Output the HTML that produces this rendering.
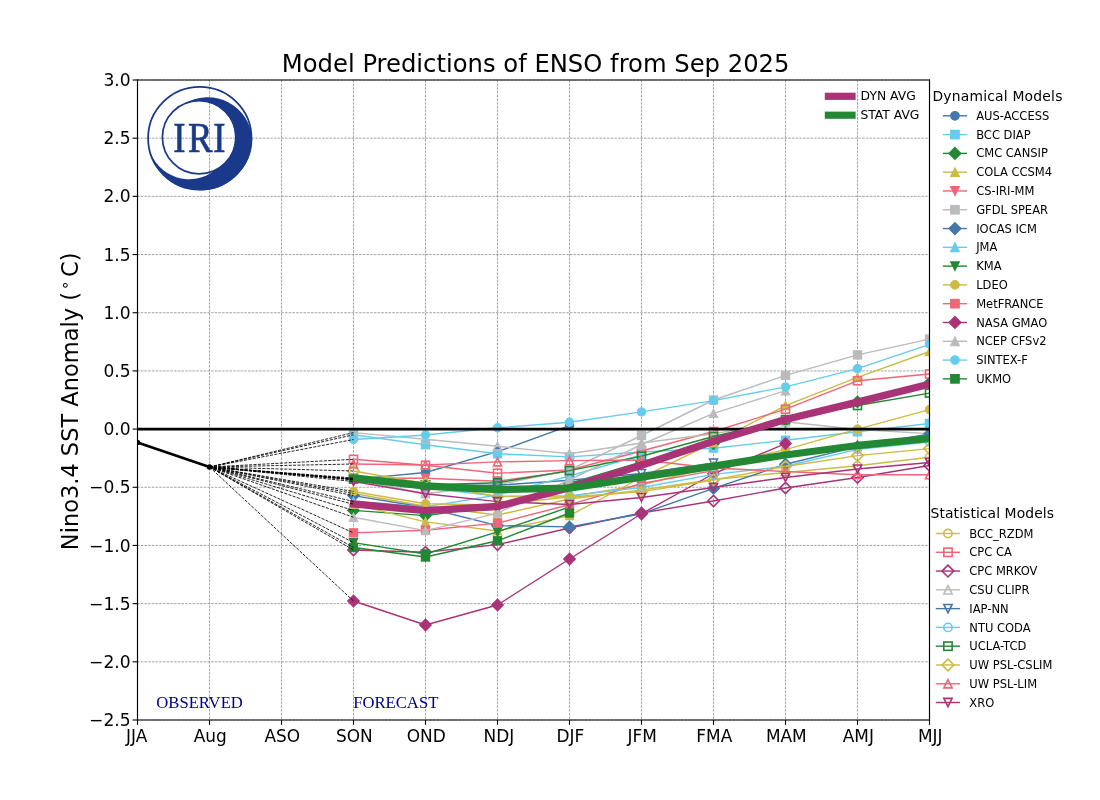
<!DOCTYPE html>
<html lang="en"><head><meta charset="utf-8"><title>Model Predictions of ENSO from Sep 2025</title>
<style>
html,body{margin:0;padding:0;background:#fff;}
body{width:1100px;height:800px;overflow:hidden;}
svg{display:block;}
text{font-family:"DejaVu Sans","Liberation Sans",sans-serif;fill:#000;}
.serif{font-family:"Liberation Serif","DejaVu Serif",serif;}
</style></head><body>
<svg width="1100" height="800" viewBox="0 0 1100 800">
<rect width="1100" height="800" fill="#fff"/>
<defs><clipPath id="ax"><rect x="137.5" y="80" width="792" height="640"/></clipPath></defs>

<g stroke="#808080" stroke-width="0.7" stroke-dasharray="2.6 1.1" fill="none">
<line x1="137.5" y1="80" x2="137.5" y2="720"/>
<line x1="209.5" y1="80" x2="209.5" y2="720"/>
<line x1="281.5" y1="80" x2="281.5" y2="720"/>
<line x1="353.5" y1="80" x2="353.5" y2="720"/>
<line x1="425.5" y1="80" x2="425.5" y2="720"/>
<line x1="497.5" y1="80" x2="497.5" y2="720"/>
<line x1="569.5" y1="80" x2="569.5" y2="720"/>
<line x1="641.5" y1="80" x2="641.5" y2="720"/>
<line x1="713.5" y1="80" x2="713.5" y2="720"/>
<line x1="785.5" y1="80" x2="785.5" y2="720"/>
<line x1="857.5" y1="80" x2="857.5" y2="720"/>
<line x1="929.5" y1="80" x2="929.5" y2="720"/>
<line x1="137" y1="80.00" x2="929" y2="80.00"/>
<line x1="137" y1="138.18" x2="929" y2="138.18"/>
<line x1="137" y1="196.36" x2="929" y2="196.36"/>
<line x1="137" y1="254.55" x2="929" y2="254.55"/>
<line x1="137" y1="312.73" x2="929" y2="312.73"/>
<line x1="137" y1="370.91" x2="929" y2="370.91"/>
<line x1="137" y1="429.09" x2="929" y2="429.09"/>
<line x1="137" y1="487.27" x2="929" y2="487.27"/>
<line x1="137" y1="545.45" x2="929" y2="545.45"/>
<line x1="137" y1="603.64" x2="929" y2="603.64"/>
<line x1="137" y1="661.82" x2="929" y2="661.82"/>
<line x1="137" y1="720.00" x2="929" y2="720.00"/>
</g>
<g clip-path="url(#ax)">
<g><polyline points="353.5,479.4 425.5,472.5 497.5,451.7 569.5,425.6" fill="none" stroke="#4477AA" stroke-width="1.4" stroke-linejoin="round"/>
<circle cx="353.50" cy="479.40" r="4.00" fill="#4477AA" stroke="#4477AA" stroke-width="1.39" stroke-linejoin="miter"/>
<circle cx="425.50" cy="472.50" r="4.00" fill="#4477AA" stroke="#4477AA" stroke-width="1.39" stroke-linejoin="miter"/>
<circle cx="497.50" cy="451.70" r="4.00" fill="#4477AA" stroke="#4477AA" stroke-width="1.39" stroke-linejoin="miter"/>
<circle cx="569.50" cy="425.60" r="4.00" fill="#4477AA" stroke="#4477AA" stroke-width="1.39" stroke-linejoin="miter"/>
</g>
<g><polyline points="353.5,434.8 425.5,444.7 497.5,453.75 569.5,456.9 641.5,452 713.5,448.2 785.5,440.3 857.5,431.8 929.5,423.5" fill="none" stroke="#66CCEE" stroke-width="1.4" stroke-linejoin="round"/>
<rect x="349.50" y="430.80" width="8.00" height="8.00" fill="#66CCEE" stroke="#66CCEE" stroke-width="1.39" stroke-linejoin="miter"/>
<rect x="421.50" y="440.70" width="8.00" height="8.00" fill="#66CCEE" stroke="#66CCEE" stroke-width="1.39" stroke-linejoin="miter"/>
<rect x="493.50" y="449.75" width="8.00" height="8.00" fill="#66CCEE" stroke="#66CCEE" stroke-width="1.39" stroke-linejoin="miter"/>
<rect x="565.50" y="452.90" width="8.00" height="8.00" fill="#66CCEE" stroke="#66CCEE" stroke-width="1.39" stroke-linejoin="miter"/>
<rect x="637.50" y="448.00" width="8.00" height="8.00" fill="#66CCEE" stroke="#66CCEE" stroke-width="1.39" stroke-linejoin="miter"/>
<rect x="709.50" y="444.20" width="8.00" height="8.00" fill="#66CCEE" stroke="#66CCEE" stroke-width="1.39" stroke-linejoin="miter"/>
<rect x="781.50" y="436.30" width="8.00" height="8.00" fill="#66CCEE" stroke="#66CCEE" stroke-width="1.39" stroke-linejoin="miter"/>
<rect x="853.50" y="427.80" width="8.00" height="8.00" fill="#66CCEE" stroke="#66CCEE" stroke-width="1.39" stroke-linejoin="miter"/>
<rect x="925.50" y="419.50" width="8.00" height="8.00" fill="#66CCEE" stroke="#66CCEE" stroke-width="1.39" stroke-linejoin="miter"/>
</g>
<g><polyline points="353.5,493.5 425.5,506.2 497.5,515 569.5,499 641.5,490 713.5,479.5 785.5,472.5 857.5,465.7 929.5,457.2" fill="none" stroke="#CCBB44" stroke-width="1.4" stroke-linejoin="round"/>
<circle cx="353.50" cy="493.50" r="4.00" fill="none" stroke="#CCBB44" stroke-width="1.6" stroke-linejoin="miter"/>
<circle cx="425.50" cy="506.20" r="4.00" fill="none" stroke="#CCBB44" stroke-width="1.6" stroke-linejoin="miter"/>
<circle cx="497.50" cy="515.00" r="4.00" fill="none" stroke="#CCBB44" stroke-width="1.6" stroke-linejoin="miter"/>
<circle cx="569.50" cy="499.00" r="4.00" fill="none" stroke="#CCBB44" stroke-width="1.6" stroke-linejoin="miter"/>
<circle cx="641.50" cy="490.00" r="4.00" fill="none" stroke="#CCBB44" stroke-width="1.6" stroke-linejoin="miter"/>
<circle cx="713.50" cy="479.50" r="4.00" fill="none" stroke="#CCBB44" stroke-width="1.6" stroke-linejoin="miter"/>
<circle cx="785.50" cy="472.50" r="4.00" fill="none" stroke="#CCBB44" stroke-width="1.6" stroke-linejoin="miter"/>
<circle cx="857.50" cy="465.70" r="4.00" fill="none" stroke="#CCBB44" stroke-width="1.6" stroke-linejoin="miter"/>
<circle cx="929.50" cy="457.20" r="4.00" fill="none" stroke="#CCBB44" stroke-width="1.6" stroke-linejoin="miter"/>
</g>
<g><polyline points="353.5,510.4 425.5,515.6 497.5,506 569.5,483.5 641.5,462 713.5,443.5 785.5,421.3 857.5,401.8 929.5,383" fill="none" stroke="#228833" stroke-width="1.4" stroke-linejoin="round"/>
<path d="M353.50 504.74L359.16 510.40L353.50 516.06L347.84 510.40Z" fill="#228833" stroke="#228833" stroke-width="1.39" stroke-linejoin="miter"/>
<path d="M425.50 509.94L431.16 515.60L425.50 521.26L419.84 515.60Z" fill="#228833" stroke="#228833" stroke-width="1.39" stroke-linejoin="miter"/>
<path d="M497.50 500.34L503.16 506.00L497.50 511.66L491.84 506.00Z" fill="#228833" stroke="#228833" stroke-width="1.39" stroke-linejoin="miter"/>
<path d="M569.50 477.84L575.16 483.50L569.50 489.16L563.84 483.50Z" fill="#228833" stroke="#228833" stroke-width="1.39" stroke-linejoin="miter"/>
<path d="M641.50 456.34L647.16 462.00L641.50 467.66L635.84 462.00Z" fill="#228833" stroke="#228833" stroke-width="1.39" stroke-linejoin="miter"/>
<path d="M713.50 437.84L719.16 443.50L713.50 449.16L707.84 443.50Z" fill="#228833" stroke="#228833" stroke-width="1.39" stroke-linejoin="miter"/>
<path d="M785.50 415.64L791.16 421.30L785.50 426.96L779.84 421.30Z" fill="#228833" stroke="#228833" stroke-width="1.39" stroke-linejoin="miter"/>
<path d="M857.50 396.14L863.16 401.80L857.50 407.46L851.84 401.80Z" fill="#228833" stroke="#228833" stroke-width="1.39" stroke-linejoin="miter"/>
<path d="M929.50 377.34L935.16 383.00L929.50 388.66L923.84 383.00Z" fill="#228833" stroke="#228833" stroke-width="1.39" stroke-linejoin="miter"/>
</g>
<g><polyline points="353.5,504.2 425.5,521.9 497.5,531 569.5,515.6 641.5,477.5 713.5,442.7 785.5,405.6 857.5,377.4 929.5,351.5" fill="none" stroke="#CCBB44" stroke-width="1.4" stroke-linejoin="round"/>
<path d="M353.50 500.20L357.50 508.20L349.50 508.20Z" fill="#CCBB44" stroke="#CCBB44" stroke-width="1.39" stroke-linejoin="miter"/>
<path d="M425.50 517.90L429.50 525.90L421.50 525.90Z" fill="#CCBB44" stroke="#CCBB44" stroke-width="1.39" stroke-linejoin="miter"/>
<path d="M497.50 527.00L501.50 535.00L493.50 535.00Z" fill="#CCBB44" stroke="#CCBB44" stroke-width="1.39" stroke-linejoin="miter"/>
<path d="M569.50 511.60L573.50 519.60L565.50 519.60Z" fill="#CCBB44" stroke="#CCBB44" stroke-width="1.39" stroke-linejoin="miter"/>
<path d="M641.50 473.50L645.50 481.50L637.50 481.50Z" fill="#CCBB44" stroke="#CCBB44" stroke-width="1.39" stroke-linejoin="miter"/>
<path d="M713.50 438.70L717.50 446.70L709.50 446.70Z" fill="#CCBB44" stroke="#CCBB44" stroke-width="1.39" stroke-linejoin="miter"/>
<path d="M785.50 401.60L789.50 409.60L781.50 409.60Z" fill="#CCBB44" stroke="#CCBB44" stroke-width="1.39" stroke-linejoin="miter"/>
<path d="M857.50 373.40L861.50 381.40L853.50 381.40Z" fill="#CCBB44" stroke="#CCBB44" stroke-width="1.39" stroke-linejoin="miter"/>
<path d="M929.50 347.50L933.50 355.50L925.50 355.50Z" fill="#CCBB44" stroke="#CCBB44" stroke-width="1.39" stroke-linejoin="miter"/>
</g>
<g><polyline points="353.5,459.3 425.5,465.2 497.5,473.2 569.5,470 641.5,451 713.5,431.5 785.5,409.2 857.5,380.8 929.5,374" fill="none" stroke="#EE6677" stroke-width="1.4" stroke-linejoin="round"/>
<rect x="349.50" y="455.30" width="8.00" height="8.00" fill="none" stroke="#EE6677" stroke-width="1.6" stroke-linejoin="miter"/>
<rect x="421.50" y="461.20" width="8.00" height="8.00" fill="none" stroke="#EE6677" stroke-width="1.6" stroke-linejoin="miter"/>
<rect x="493.50" y="469.20" width="8.00" height="8.00" fill="none" stroke="#EE6677" stroke-width="1.6" stroke-linejoin="miter"/>
<rect x="565.50" y="466.00" width="8.00" height="8.00" fill="none" stroke="#EE6677" stroke-width="1.6" stroke-linejoin="miter"/>
<rect x="637.50" y="447.00" width="8.00" height="8.00" fill="none" stroke="#EE6677" stroke-width="1.6" stroke-linejoin="miter"/>
<rect x="709.50" y="427.50" width="8.00" height="8.00" fill="none" stroke="#EE6677" stroke-width="1.6" stroke-linejoin="miter"/>
<rect x="781.50" y="405.20" width="8.00" height="8.00" fill="none" stroke="#EE6677" stroke-width="1.6" stroke-linejoin="miter"/>
<rect x="853.50" y="376.80" width="8.00" height="8.00" fill="none" stroke="#EE6677" stroke-width="1.6" stroke-linejoin="miter"/>
<rect x="925.50" y="370.00" width="8.00" height="8.00" fill="none" stroke="#EE6677" stroke-width="1.6" stroke-linejoin="miter"/>
</g>
<g><polyline points="353.5,550 425.5,552.3 497.5,544.6 569.5,528 641.5,513 713.5,501 785.5,488 857.5,477.5 929.5,465.5" fill="none" stroke="#AA3377" stroke-width="1.4" stroke-linejoin="round"/>
<path d="M353.50 544.34L359.16 550.00L353.50 555.66L347.84 550.00Z" fill="none" stroke="#AA3377" stroke-width="1.6" stroke-linejoin="miter"/>
<path d="M425.50 546.64L431.16 552.30L425.50 557.96L419.84 552.30Z" fill="none" stroke="#AA3377" stroke-width="1.6" stroke-linejoin="miter"/>
<path d="M497.50 538.94L503.16 544.60L497.50 550.26L491.84 544.60Z" fill="none" stroke="#AA3377" stroke-width="1.6" stroke-linejoin="miter"/>
<path d="M569.50 522.34L575.16 528.00L569.50 533.66L563.84 528.00Z" fill="none" stroke="#AA3377" stroke-width="1.6" stroke-linejoin="miter"/>
<path d="M641.50 507.34L647.16 513.00L641.50 518.66L635.84 513.00Z" fill="none" stroke="#AA3377" stroke-width="1.6" stroke-linejoin="miter"/>
<path d="M713.50 495.34L719.16 501.00L713.50 506.66L707.84 501.00Z" fill="none" stroke="#AA3377" stroke-width="1.6" stroke-linejoin="miter"/>
<path d="M785.50 482.34L791.16 488.00L785.50 493.66L779.84 488.00Z" fill="none" stroke="#AA3377" stroke-width="1.6" stroke-linejoin="miter"/>
<path d="M857.50 471.84L863.16 477.50L857.50 483.16L851.84 477.50Z" fill="none" stroke="#AA3377" stroke-width="1.6" stroke-linejoin="miter"/>
<path d="M929.50 459.84L935.16 465.50L929.50 471.16L923.84 465.50Z" fill="none" stroke="#AA3377" stroke-width="1.6" stroke-linejoin="miter"/>
</g>
<g><polyline points="353.5,478 425.5,478.3 497.5,481.25 569.5,471.25" fill="none" stroke="#EE6677" stroke-width="1.4" stroke-linejoin="round"/>
<path d="M353.50 482.00L357.50 474.00L349.50 474.00Z" fill="#EE6677" stroke="#EE6677" stroke-width="1.39" stroke-linejoin="miter"/>
<path d="M425.50 482.30L429.50 474.30L421.50 474.30Z" fill="#EE6677" stroke="#EE6677" stroke-width="1.39" stroke-linejoin="miter"/>
<path d="M497.50 485.25L501.50 477.25L493.50 477.25Z" fill="#EE6677" stroke="#EE6677" stroke-width="1.39" stroke-linejoin="miter"/>
<path d="M569.50 475.25L573.50 467.25L565.50 467.25Z" fill="#EE6677" stroke="#EE6677" stroke-width="1.39" stroke-linejoin="miter"/>
</g>
<g><polyline points="353.5,432.6 425.5,439.2 497.5,446.25 569.5,453.75 641.5,443 713.5,433.75 785.5,421.8 857.5,429.5 929.5,433.6" fill="none" stroke="#BBBBBB" stroke-width="1.4" stroke-linejoin="round"/>
<path d="M353.50 428.60L357.50 436.60L349.50 436.60Z" fill="none" stroke="#BBBBBB" stroke-width="1.6" stroke-linejoin="miter"/>
<path d="M425.50 435.20L429.50 443.20L421.50 443.20Z" fill="none" stroke="#BBBBBB" stroke-width="1.6" stroke-linejoin="miter"/>
<path d="M497.50 442.25L501.50 450.25L493.50 450.25Z" fill="none" stroke="#BBBBBB" stroke-width="1.6" stroke-linejoin="miter"/>
<path d="M569.50 449.75L573.50 457.75L565.50 457.75Z" fill="none" stroke="#BBBBBB" stroke-width="1.6" stroke-linejoin="miter"/>
<path d="M641.50 439.00L645.50 447.00L637.50 447.00Z" fill="none" stroke="#BBBBBB" stroke-width="1.6" stroke-linejoin="miter"/>
<path d="M713.50 429.75L717.50 437.75L709.50 437.75Z" fill="none" stroke="#BBBBBB" stroke-width="1.6" stroke-linejoin="miter"/>
<path d="M785.50 417.80L789.50 425.80L781.50 425.80Z" fill="none" stroke="#BBBBBB" stroke-width="1.6" stroke-linejoin="miter"/>
<path d="M857.50 425.50L861.50 433.50L853.50 433.50Z" fill="none" stroke="#BBBBBB" stroke-width="1.6" stroke-linejoin="miter"/>
<path d="M929.50 429.60L933.50 437.60L925.50 437.60Z" fill="none" stroke="#BBBBBB" stroke-width="1.6" stroke-linejoin="miter"/>
</g>
<g><polyline points="353.5,479 425.5,493.75 497.5,485 569.5,470 641.5,435.5 713.5,400 785.5,375.4 857.5,354.9 929.5,339.1" fill="none" stroke="#BBBBBB" stroke-width="1.4" stroke-linejoin="round"/>
<rect x="349.50" y="475.00" width="8.00" height="8.00" fill="#BBBBBB" stroke="#BBBBBB" stroke-width="1.39" stroke-linejoin="miter"/>
<rect x="421.50" y="489.75" width="8.00" height="8.00" fill="#BBBBBB" stroke="#BBBBBB" stroke-width="1.39" stroke-linejoin="miter"/>
<rect x="493.50" y="481.00" width="8.00" height="8.00" fill="#BBBBBB" stroke="#BBBBBB" stroke-width="1.39" stroke-linejoin="miter"/>
<rect x="565.50" y="466.00" width="8.00" height="8.00" fill="#BBBBBB" stroke="#BBBBBB" stroke-width="1.39" stroke-linejoin="miter"/>
<rect x="637.50" y="431.50" width="8.00" height="8.00" fill="#BBBBBB" stroke="#BBBBBB" stroke-width="1.39" stroke-linejoin="miter"/>
<rect x="709.50" y="396.00" width="8.00" height="8.00" fill="#BBBBBB" stroke="#BBBBBB" stroke-width="1.39" stroke-linejoin="miter"/>
<rect x="781.50" y="371.40" width="8.00" height="8.00" fill="#BBBBBB" stroke="#BBBBBB" stroke-width="1.39" stroke-linejoin="miter"/>
<rect x="853.50" y="350.90" width="8.00" height="8.00" fill="#BBBBBB" stroke="#BBBBBB" stroke-width="1.39" stroke-linejoin="miter"/>
<rect x="925.50" y="335.10" width="8.00" height="8.00" fill="#BBBBBB" stroke="#BBBBBB" stroke-width="1.39" stroke-linejoin="miter"/>
</g>
<g><polyline points="353.5,480 425.5,485 497.5,485.2 569.5,480.3 641.5,473.5 713.5,463" fill="none" stroke="#4477AA" stroke-width="1.4" stroke-linejoin="round"/>
<path d="M353.50 484.00L357.50 476.00L349.50 476.00Z" fill="none" stroke="#4477AA" stroke-width="1.6" stroke-linejoin="miter"/>
<path d="M425.50 489.00L429.50 481.00L421.50 481.00Z" fill="none" stroke="#4477AA" stroke-width="1.6" stroke-linejoin="miter"/>
<path d="M497.50 489.20L501.50 481.20L493.50 481.20Z" fill="none" stroke="#4477AA" stroke-width="1.6" stroke-linejoin="miter"/>
<path d="M569.50 484.30L573.50 476.30L565.50 476.30Z" fill="none" stroke="#4477AA" stroke-width="1.6" stroke-linejoin="miter"/>
<path d="M641.50 477.50L645.50 469.50L637.50 469.50Z" fill="none" stroke="#4477AA" stroke-width="1.6" stroke-linejoin="miter"/>
<path d="M713.50 467.00L717.50 459.00L709.50 459.00Z" fill="none" stroke="#4477AA" stroke-width="1.6" stroke-linejoin="miter"/>
</g>
<g><polyline points="353.5,495.6 425.5,507.5 497.5,525.6 569.5,526.9 641.5,513.75 713.5,488.4 785.5,464.2 857.5,446.6 929.5,433.9" fill="none" stroke="#4477AA" stroke-width="1.4" stroke-linejoin="round"/>
<path d="M353.50 489.94L359.16 495.60L353.50 501.26L347.84 495.60Z" fill="#4477AA" stroke="#4477AA" stroke-width="1.39" stroke-linejoin="miter"/>
<path d="M425.50 501.84L431.16 507.50L425.50 513.16L419.84 507.50Z" fill="#4477AA" stroke="#4477AA" stroke-width="1.39" stroke-linejoin="miter"/>
<path d="M497.50 519.94L503.16 525.60L497.50 531.26L491.84 525.60Z" fill="#4477AA" stroke="#4477AA" stroke-width="1.39" stroke-linejoin="miter"/>
<path d="M569.50 521.24L575.16 526.90L569.50 532.56L563.84 526.90Z" fill="#4477AA" stroke="#4477AA" stroke-width="1.39" stroke-linejoin="miter"/>
<path d="M641.50 508.09L647.16 513.75L641.50 519.41L635.84 513.75Z" fill="#4477AA" stroke="#4477AA" stroke-width="1.39" stroke-linejoin="miter"/>
<path d="M713.50 482.74L719.16 488.40L713.50 494.06L707.84 488.40Z" fill="#4477AA" stroke="#4477AA" stroke-width="1.39" stroke-linejoin="miter"/>
<path d="M785.50 458.54L791.16 464.20L785.50 469.86L779.84 464.20Z" fill="#4477AA" stroke="#4477AA" stroke-width="1.39" stroke-linejoin="miter"/>
<path d="M857.50 440.94L863.16 446.60L857.50 452.26L851.84 446.60Z" fill="#4477AA" stroke="#4477AA" stroke-width="1.39" stroke-linejoin="miter"/>
<path d="M929.50 428.24L935.16 433.90L929.50 439.56L923.84 433.90Z" fill="#4477AA" stroke="#4477AA" stroke-width="1.39" stroke-linejoin="miter"/>
</g>
<g><polyline points="353.5,501.5 425.5,506.9 497.5,495 569.5,476 641.5,455" fill="none" stroke="#66CCEE" stroke-width="1.4" stroke-linejoin="round"/>
<path d="M353.50 497.50L357.50 505.50L349.50 505.50Z" fill="#66CCEE" stroke="#66CCEE" stroke-width="1.39" stroke-linejoin="miter"/>
<path d="M425.50 502.90L429.50 510.90L421.50 510.90Z" fill="#66CCEE" stroke="#66CCEE" stroke-width="1.39" stroke-linejoin="miter"/>
<path d="M497.50 491.00L501.50 499.00L493.50 499.00Z" fill="#66CCEE" stroke="#66CCEE" stroke-width="1.39" stroke-linejoin="miter"/>
<path d="M569.50 472.00L573.50 480.00L565.50 480.00Z" fill="#66CCEE" stroke="#66CCEE" stroke-width="1.39" stroke-linejoin="miter"/>
<path d="M641.50 451.00L645.50 459.00L637.50 459.00Z" fill="#66CCEE" stroke="#66CCEE" stroke-width="1.39" stroke-linejoin="miter"/>
</g>
<g><polyline points="353.5,542.6 425.5,554 497.5,531.9 569.5,507" fill="none" stroke="#228833" stroke-width="1.4" stroke-linejoin="round"/>
<path d="M353.50 546.60L357.50 538.60L349.50 538.60Z" fill="#228833" stroke="#228833" stroke-width="1.39" stroke-linejoin="miter"/>
<path d="M425.50 558.00L429.50 550.00L421.50 550.00Z" fill="#228833" stroke="#228833" stroke-width="1.39" stroke-linejoin="miter"/>
<path d="M497.50 535.90L501.50 527.90L493.50 527.90Z" fill="#228833" stroke="#228833" stroke-width="1.39" stroke-linejoin="miter"/>
<path d="M569.50 511.00L573.50 503.00L565.50 503.00Z" fill="#228833" stroke="#228833" stroke-width="1.39" stroke-linejoin="miter"/>
</g>
<g><polyline points="353.5,491.5 425.5,503.75 497.5,505 569.5,496.8 641.5,485 713.5,466.3 785.5,449.6 857.5,429.1 929.5,409.6" fill="none" stroke="#CCBB44" stroke-width="1.4" stroke-linejoin="round"/>
<circle cx="353.50" cy="491.50" r="4.00" fill="#CCBB44" stroke="#CCBB44" stroke-width="1.39" stroke-linejoin="miter"/>
<circle cx="425.50" cy="503.75" r="4.00" fill="#CCBB44" stroke="#CCBB44" stroke-width="1.39" stroke-linejoin="miter"/>
<circle cx="497.50" cy="505.00" r="4.00" fill="#CCBB44" stroke="#CCBB44" stroke-width="1.39" stroke-linejoin="miter"/>
<circle cx="569.50" cy="496.80" r="4.00" fill="#CCBB44" stroke="#CCBB44" stroke-width="1.39" stroke-linejoin="miter"/>
<circle cx="641.50" cy="485.00" r="4.00" fill="#CCBB44" stroke="#CCBB44" stroke-width="1.39" stroke-linejoin="miter"/>
<circle cx="713.50" cy="466.30" r="4.00" fill="#CCBB44" stroke="#CCBB44" stroke-width="1.39" stroke-linejoin="miter"/>
<circle cx="785.50" cy="449.60" r="4.00" fill="#CCBB44" stroke="#CCBB44" stroke-width="1.39" stroke-linejoin="miter"/>
<circle cx="857.50" cy="429.10" r="4.00" fill="#CCBB44" stroke="#CCBB44" stroke-width="1.39" stroke-linejoin="miter"/>
<circle cx="929.50" cy="409.60" r="4.00" fill="#CCBB44" stroke="#CCBB44" stroke-width="1.39" stroke-linejoin="miter"/>
</g>
<g><polyline points="353.5,532.9 425.5,530.2 497.5,523.1 569.5,504.7 641.5,483.5 713.5,470.6" fill="none" stroke="#EE6677" stroke-width="1.4" stroke-linejoin="round"/>
<rect x="349.50" y="528.90" width="8.00" height="8.00" fill="#EE6677" stroke="#EE6677" stroke-width="1.39" stroke-linejoin="miter"/>
<rect x="421.50" y="526.20" width="8.00" height="8.00" fill="#EE6677" stroke="#EE6677" stroke-width="1.39" stroke-linejoin="miter"/>
<rect x="493.50" y="519.10" width="8.00" height="8.00" fill="#EE6677" stroke="#EE6677" stroke-width="1.39" stroke-linejoin="miter"/>
<rect x="565.50" y="500.70" width="8.00" height="8.00" fill="#EE6677" stroke="#EE6677" stroke-width="1.39" stroke-linejoin="miter"/>
<rect x="637.50" y="479.50" width="8.00" height="8.00" fill="#EE6677" stroke="#EE6677" stroke-width="1.39" stroke-linejoin="miter"/>
<rect x="709.50" y="466.60" width="8.00" height="8.00" fill="#EE6677" stroke="#EE6677" stroke-width="1.39" stroke-linejoin="miter"/>
</g>
<g><polyline points="353.5,601 425.5,625 497.5,605 569.5,559 641.5,513.75 713.5,473.75 785.5,443.6" fill="none" stroke="#AA3377" stroke-width="1.4" stroke-linejoin="round"/>
<path d="M353.50 595.34L359.16 601.00L353.50 606.66L347.84 601.00Z" fill="#AA3377" stroke="#AA3377" stroke-width="1.39" stroke-linejoin="miter"/>
<path d="M425.50 619.34L431.16 625.00L425.50 630.66L419.84 625.00Z" fill="#AA3377" stroke="#AA3377" stroke-width="1.39" stroke-linejoin="miter"/>
<path d="M497.50 599.34L503.16 605.00L497.50 610.66L491.84 605.00Z" fill="#AA3377" stroke="#AA3377" stroke-width="1.39" stroke-linejoin="miter"/>
<path d="M569.50 553.34L575.16 559.00L569.50 564.66L563.84 559.00Z" fill="#AA3377" stroke="#AA3377" stroke-width="1.39" stroke-linejoin="miter"/>
<path d="M641.50 508.09L647.16 513.75L641.50 519.41L635.84 513.75Z" fill="#AA3377" stroke="#AA3377" stroke-width="1.39" stroke-linejoin="miter"/>
<path d="M713.50 468.09L719.16 473.75L713.50 479.41L707.84 473.75Z" fill="#AA3377" stroke="#AA3377" stroke-width="1.39" stroke-linejoin="miter"/>
<path d="M785.50 437.94L791.16 443.60L785.50 449.26L779.84 443.60Z" fill="#AA3377" stroke="#AA3377" stroke-width="1.39" stroke-linejoin="miter"/>
</g>
<g><polyline points="353.5,517.2 425.5,530.6 497.5,513.1 569.5,480 641.5,444.5 713.5,413.4 785.5,390.7" fill="none" stroke="#BBBBBB" stroke-width="1.4" stroke-linejoin="round"/>
<path d="M353.50 513.20L357.50 521.20L349.50 521.20Z" fill="#BBBBBB" stroke="#BBBBBB" stroke-width="1.39" stroke-linejoin="miter"/>
<path d="M425.50 526.60L429.50 534.60L421.50 534.60Z" fill="#BBBBBB" stroke="#BBBBBB" stroke-width="1.39" stroke-linejoin="miter"/>
<path d="M497.50 509.10L501.50 517.10L493.50 517.10Z" fill="#BBBBBB" stroke="#BBBBBB" stroke-width="1.39" stroke-linejoin="miter"/>
<path d="M569.50 476.00L573.50 484.00L565.50 484.00Z" fill="#BBBBBB" stroke="#BBBBBB" stroke-width="1.39" stroke-linejoin="miter"/>
<path d="M641.50 440.50L645.50 448.50L637.50 448.50Z" fill="#BBBBBB" stroke="#BBBBBB" stroke-width="1.39" stroke-linejoin="miter"/>
<path d="M713.50 409.40L717.50 417.40L709.50 417.40Z" fill="#BBBBBB" stroke="#BBBBBB" stroke-width="1.39" stroke-linejoin="miter"/>
<path d="M785.50 386.70L789.50 394.70L781.50 394.70Z" fill="#BBBBBB" stroke="#BBBBBB" stroke-width="1.39" stroke-linejoin="miter"/>
</g>
<g><polyline points="353.5,479.5 425.5,487.5 497.5,496.25 569.5,495.6 641.5,487.5 713.5,474.4 785.5,466.25 857.5,449.4 929.5,442" fill="none" stroke="#66CCEE" stroke-width="1.4" stroke-linejoin="round"/>
<circle cx="353.50" cy="479.50" r="4.00" fill="none" stroke="#66CCEE" stroke-width="1.6" stroke-linejoin="miter"/>
<circle cx="425.50" cy="487.50" r="4.00" fill="none" stroke="#66CCEE" stroke-width="1.6" stroke-linejoin="miter"/>
<circle cx="497.50" cy="496.25" r="4.00" fill="none" stroke="#66CCEE" stroke-width="1.6" stroke-linejoin="miter"/>
<circle cx="569.50" cy="495.60" r="4.00" fill="none" stroke="#66CCEE" stroke-width="1.6" stroke-linejoin="miter"/>
<circle cx="641.50" cy="487.50" r="4.00" fill="none" stroke="#66CCEE" stroke-width="1.6" stroke-linejoin="miter"/>
<circle cx="713.50" cy="474.40" r="4.00" fill="none" stroke="#66CCEE" stroke-width="1.6" stroke-linejoin="miter"/>
<circle cx="785.50" cy="466.25" r="4.00" fill="none" stroke="#66CCEE" stroke-width="1.6" stroke-linejoin="miter"/>
<circle cx="857.50" cy="449.40" r="4.00" fill="none" stroke="#66CCEE" stroke-width="1.6" stroke-linejoin="miter"/>
<circle cx="929.50" cy="442.00" r="4.00" fill="none" stroke="#66CCEE" stroke-width="1.6" stroke-linejoin="miter"/>
</g>
<g><polyline points="353.5,439.5 425.5,435 497.5,427.8 569.5,422.25 641.5,411.9 713.5,400.6 785.5,386.9 857.5,368.6 929.5,344.3" fill="none" stroke="#66CCEE" stroke-width="1.4" stroke-linejoin="round"/>
<circle cx="353.50" cy="439.50" r="4.00" fill="#66CCEE" stroke="#66CCEE" stroke-width="1.39" stroke-linejoin="miter"/>
<circle cx="425.50" cy="435.00" r="4.00" fill="#66CCEE" stroke="#66CCEE" stroke-width="1.39" stroke-linejoin="miter"/>
<circle cx="497.50" cy="427.80" r="4.00" fill="#66CCEE" stroke="#66CCEE" stroke-width="1.39" stroke-linejoin="miter"/>
<circle cx="569.50" cy="422.25" r="4.00" fill="#66CCEE" stroke="#66CCEE" stroke-width="1.39" stroke-linejoin="miter"/>
<circle cx="641.50" cy="411.90" r="4.00" fill="#66CCEE" stroke="#66CCEE" stroke-width="1.39" stroke-linejoin="miter"/>
<circle cx="713.50" cy="400.60" r="4.00" fill="#66CCEE" stroke="#66CCEE" stroke-width="1.39" stroke-linejoin="miter"/>
<circle cx="785.50" cy="386.90" r="4.00" fill="#66CCEE" stroke="#66CCEE" stroke-width="1.39" stroke-linejoin="miter"/>
<circle cx="857.50" cy="368.60" r="4.00" fill="#66CCEE" stroke="#66CCEE" stroke-width="1.39" stroke-linejoin="miter"/>
<circle cx="929.50" cy="344.30" r="4.00" fill="#66CCEE" stroke="#66CCEE" stroke-width="1.39" stroke-linejoin="miter"/>
</g>
<g><polyline points="353.5,479 425.5,485 497.5,482.8 569.5,470.6 641.5,456.2 713.5,436.5 785.5,419.6 857.5,405.5 929.5,393.1" fill="none" stroke="#228833" stroke-width="1.4" stroke-linejoin="round"/>
<rect x="349.50" y="475.00" width="8.00" height="8.00" fill="none" stroke="#228833" stroke-width="1.6" stroke-linejoin="miter"/>
<rect x="421.50" y="481.00" width="8.00" height="8.00" fill="none" stroke="#228833" stroke-width="1.6" stroke-linejoin="miter"/>
<rect x="493.50" y="478.80" width="8.00" height="8.00" fill="none" stroke="#228833" stroke-width="1.6" stroke-linejoin="miter"/>
<rect x="565.50" y="466.60" width="8.00" height="8.00" fill="none" stroke="#228833" stroke-width="1.6" stroke-linejoin="miter"/>
<rect x="637.50" y="452.20" width="8.00" height="8.00" fill="none" stroke="#228833" stroke-width="1.6" stroke-linejoin="miter"/>
<rect x="709.50" y="432.50" width="8.00" height="8.00" fill="none" stroke="#228833" stroke-width="1.6" stroke-linejoin="miter"/>
<rect x="781.50" y="415.60" width="8.00" height="8.00" fill="none" stroke="#228833" stroke-width="1.6" stroke-linejoin="miter"/>
<rect x="853.50" y="401.50" width="8.00" height="8.00" fill="none" stroke="#228833" stroke-width="1.6" stroke-linejoin="miter"/>
<rect x="925.50" y="389.10" width="8.00" height="8.00" fill="none" stroke="#228833" stroke-width="1.6" stroke-linejoin="miter"/>
</g>
<g><polyline points="353.5,547.5 425.5,557 497.5,540.8 569.5,513" fill="none" stroke="#228833" stroke-width="1.4" stroke-linejoin="round"/>
<rect x="349.50" y="543.50" width="8.00" height="8.00" fill="#228833" stroke="#228833" stroke-width="1.39" stroke-linejoin="miter"/>
<rect x="421.50" y="553.00" width="8.00" height="8.00" fill="#228833" stroke="#228833" stroke-width="1.39" stroke-linejoin="miter"/>
<rect x="493.50" y="536.80" width="8.00" height="8.00" fill="#228833" stroke="#228833" stroke-width="1.39" stroke-linejoin="miter"/>
<rect x="565.50" y="509.00" width="8.00" height="8.00" fill="#228833" stroke="#228833" stroke-width="1.39" stroke-linejoin="miter"/>
</g>
<g><polyline points="353.5,471 425.5,483.5 497.5,496.5 569.5,497 641.5,491.9 713.5,480 785.5,466.5 857.5,455.6 929.5,448.6" fill="none" stroke="#CCBB44" stroke-width="1.4" stroke-linejoin="round"/>
<path d="M353.50 465.34L359.16 471.00L353.50 476.66L347.84 471.00Z" fill="none" stroke="#CCBB44" stroke-width="1.6" stroke-linejoin="miter"/>
<path d="M425.50 477.84L431.16 483.50L425.50 489.16L419.84 483.50Z" fill="none" stroke="#CCBB44" stroke-width="1.6" stroke-linejoin="miter"/>
<path d="M497.50 490.84L503.16 496.50L497.50 502.16L491.84 496.50Z" fill="none" stroke="#CCBB44" stroke-width="1.6" stroke-linejoin="miter"/>
<path d="M569.50 491.34L575.16 497.00L569.50 502.66L563.84 497.00Z" fill="none" stroke="#CCBB44" stroke-width="1.6" stroke-linejoin="miter"/>
<path d="M641.50 486.24L647.16 491.90L641.50 497.56L635.84 491.90Z" fill="none" stroke="#CCBB44" stroke-width="1.6" stroke-linejoin="miter"/>
<path d="M713.50 474.34L719.16 480.00L713.50 485.66L707.84 480.00Z" fill="none" stroke="#CCBB44" stroke-width="1.6" stroke-linejoin="miter"/>
<path d="M785.50 460.84L791.16 466.50L785.50 472.16L779.84 466.50Z" fill="none" stroke="#CCBB44" stroke-width="1.6" stroke-linejoin="miter"/>
<path d="M857.50 449.94L863.16 455.60L857.50 461.26L851.84 455.60Z" fill="none" stroke="#CCBB44" stroke-width="1.6" stroke-linejoin="miter"/>
<path d="M929.50 442.94L935.16 448.60L929.50 454.26L923.84 448.60Z" fill="none" stroke="#CCBB44" stroke-width="1.6" stroke-linejoin="miter"/>
</g>
<g><polyline points="353.5,464 425.5,465 497.5,461.9 569.5,460.6 641.5,460 713.5,468 785.5,471.5 857.5,474.7 929.5,474.7" fill="none" stroke="#EE6677" stroke-width="1.4" stroke-linejoin="round"/>
<path d="M353.50 460.00L357.50 468.00L349.50 468.00Z" fill="none" stroke="#EE6677" stroke-width="1.6" stroke-linejoin="miter"/>
<path d="M425.50 461.00L429.50 469.00L421.50 469.00Z" fill="none" stroke="#EE6677" stroke-width="1.6" stroke-linejoin="miter"/>
<path d="M497.50 457.90L501.50 465.90L493.50 465.90Z" fill="none" stroke="#EE6677" stroke-width="1.6" stroke-linejoin="miter"/>
<path d="M569.50 456.60L573.50 464.60L565.50 464.60Z" fill="none" stroke="#EE6677" stroke-width="1.6" stroke-linejoin="miter"/>
<path d="M641.50 456.00L645.50 464.00L637.50 464.00Z" fill="none" stroke="#EE6677" stroke-width="1.6" stroke-linejoin="miter"/>
<path d="M713.50 464.00L717.50 472.00L709.50 472.00Z" fill="none" stroke="#EE6677" stroke-width="1.6" stroke-linejoin="miter"/>
<path d="M785.50 467.50L789.50 475.50L781.50 475.50Z" fill="none" stroke="#EE6677" stroke-width="1.6" stroke-linejoin="miter"/>
<path d="M857.50 470.70L861.50 478.70L853.50 478.70Z" fill="none" stroke="#EE6677" stroke-width="1.6" stroke-linejoin="miter"/>
<path d="M929.50 470.70L933.50 478.70L925.50 478.70Z" fill="none" stroke="#EE6677" stroke-width="1.6" stroke-linejoin="miter"/>
</g>
<g><polyline points="353.5,481.5 425.5,493.75 497.5,501.6 569.5,504.5 641.5,497.5 713.5,487.5 785.5,477.5 857.5,469 929.5,462.5" fill="none" stroke="#AA3377" stroke-width="1.4" stroke-linejoin="round"/>
<path d="M353.50 485.50L357.50 477.50L349.50 477.50Z" fill="none" stroke="#AA3377" stroke-width="1.6" stroke-linejoin="miter"/>
<path d="M425.50 497.75L429.50 489.75L421.50 489.75Z" fill="none" stroke="#AA3377" stroke-width="1.6" stroke-linejoin="miter"/>
<path d="M497.50 505.60L501.50 497.60L493.50 497.60Z" fill="none" stroke="#AA3377" stroke-width="1.6" stroke-linejoin="miter"/>
<path d="M569.50 508.50L573.50 500.50L565.50 500.50Z" fill="none" stroke="#AA3377" stroke-width="1.6" stroke-linejoin="miter"/>
<path d="M641.50 501.50L645.50 493.50L637.50 493.50Z" fill="none" stroke="#AA3377" stroke-width="1.6" stroke-linejoin="miter"/>
<path d="M713.50 491.50L717.50 483.50L709.50 483.50Z" fill="none" stroke="#AA3377" stroke-width="1.6" stroke-linejoin="miter"/>
<path d="M785.50 481.50L789.50 473.50L781.50 473.50Z" fill="none" stroke="#AA3377" stroke-width="1.6" stroke-linejoin="miter"/>
<path d="M857.50 473.00L861.50 465.00L853.50 465.00Z" fill="none" stroke="#AA3377" stroke-width="1.6" stroke-linejoin="miter"/>
<path d="M929.50 466.50L933.50 458.50L925.50 458.50Z" fill="none" stroke="#AA3377" stroke-width="1.6" stroke-linejoin="miter"/>
</g>
<polyline points="137.5,442.5 209.5,467" fill="none" stroke="#000" stroke-width="2.8" stroke-linecap="butt"/>
<circle cx="137.5" cy="442.5" r="2.7" fill="#000"/><circle cx="209.5" cy="467" r="2.7" fill="#000"/>
<line x1="137" y1="429.1" x2="929" y2="429.1" stroke="#000" stroke-width="2.8"/>
<polyline points="353.5,504 425.5,510.6 497.5,506.5 569.5,487.8 641.5,465.3 713.5,441.3 785.5,419.5 857.5,402.1 929.5,384.1" fill="none" stroke="#AA3377" stroke-width="7.3" stroke-linejoin="round" stroke-linecap="square"/>
<polyline points="353.5,478.0 425.5,486.0 497.5,489.6 569.5,488.2 641.5,477.2 713.5,466.1 785.5,455 857.5,445.5 929.5,438.4" fill="none" stroke="#228833" stroke-width="7.3" stroke-linejoin="round" stroke-linecap="square"/>
<g stroke="#000" stroke-width="0.85" stroke-dasharray="3.1 1.3" fill="none">
<line x1="209.5" y1="467" x2="353.5" y2="479.4"/>
<line x1="209.5" y1="467" x2="353.5" y2="434.8"/>
<line x1="209.5" y1="467" x2="353.5" y2="510.4"/>
<line x1="209.5" y1="467" x2="353.5" y2="504.2"/>
<line x1="209.5" y1="467" x2="353.5" y2="478"/>
<line x1="209.5" y1="467" x2="353.5" y2="479"/>
<line x1="209.5" y1="467" x2="353.5" y2="495.6"/>
<line x1="209.5" y1="467" x2="353.5" y2="501.5"/>
<line x1="209.5" y1="467" x2="353.5" y2="542.6"/>
<line x1="209.5" y1="467" x2="353.5" y2="491.5"/>
<line x1="209.5" y1="467" x2="353.5" y2="532.9"/>
<line x1="209.5" y1="467" x2="353.5" y2="601"/>
<line x1="209.5" y1="467" x2="353.5" y2="517.2"/>
<line x1="209.5" y1="467" x2="353.5" y2="439.5"/>
<line x1="209.5" y1="467" x2="353.5" y2="547.5"/>
<line x1="209.5" y1="467" x2="353.5" y2="493.5"/>
<line x1="209.5" y1="467" x2="353.5" y2="459.3"/>
<line x1="209.5" y1="467" x2="353.5" y2="550"/>
<line x1="209.5" y1="467" x2="353.5" y2="432.6"/>
<line x1="209.5" y1="467" x2="353.5" y2="480"/>
<line x1="209.5" y1="467" x2="353.5" y2="479.5"/>
<line x1="209.5" y1="467" x2="353.5" y2="479"/>
<line x1="209.5" y1="467" x2="353.5" y2="471"/>
<line x1="209.5" y1="467" x2="353.5" y2="464"/>
<line x1="209.5" y1="467" x2="353.5" y2="481.5"/>
</g>
</g>
<g stroke="#000" stroke-width="1.15" fill="none"><line x1="137.5" y1="79.45" x2="137.5" y2="720.55"/><line x1="929.5" y1="79.45" x2="929.5" y2="720.55"/><line x1="136.95" y1="80" x2="930.05" y2="80"/><line x1="136.95" y1="720" x2="930.05" y2="720"/></g>
<g stroke="#000" stroke-width="1.1">
<line x1="137.5" y1="720" x2="137.5" y2="724.9"/>
<line x1="209.5" y1="720" x2="209.5" y2="724.9"/>
<line x1="281.5" y1="720" x2="281.5" y2="724.9"/>
<line x1="353.5" y1="720" x2="353.5" y2="724.9"/>
<line x1="425.5" y1="720" x2="425.5" y2="724.9"/>
<line x1="497.5" y1="720" x2="497.5" y2="724.9"/>
<line x1="569.5" y1="720" x2="569.5" y2="724.9"/>
<line x1="641.5" y1="720" x2="641.5" y2="724.9"/>
<line x1="713.5" y1="720" x2="713.5" y2="724.9"/>
<line x1="785.5" y1="720" x2="785.5" y2="724.9"/>
<line x1="857.5" y1="720" x2="857.5" y2="724.9"/>
<line x1="929.5" y1="720" x2="929.5" y2="724.9"/>
<line x1="132.6" y1="80.00" x2="137.5" y2="80.00"/>
<line x1="132.6" y1="138.18" x2="137.5" y2="138.18"/>
<line x1="132.6" y1="196.36" x2="137.5" y2="196.36"/>
<line x1="132.6" y1="254.55" x2="137.5" y2="254.55"/>
<line x1="132.6" y1="312.73" x2="137.5" y2="312.73"/>
<line x1="132.6" y1="370.91" x2="137.5" y2="370.91"/>
<line x1="132.6" y1="429.09" x2="137.5" y2="429.09"/>
<line x1="132.6" y1="487.27" x2="137.5" y2="487.27"/>
<line x1="132.6" y1="545.45" x2="137.5" y2="545.45"/>
<line x1="132.6" y1="603.64" x2="137.5" y2="603.64"/>
<line x1="132.6" y1="661.82" x2="137.5" y2="661.82"/>
<line x1="132.6" y1="720.00" x2="137.5" y2="720.00"/>
</g>
<g font-size="16.95" text-anchor="middle">
<text x="136.70000000000002" y="741.6">JJA</text>
<text x="210.3" y="741.6">Aug</text>
<text x="282.3" y="741.6">ASO</text>
<text x="354.3" y="741.6">SON</text>
<text x="426.3" y="741.6">OND</text>
<text x="498.90000000000003" y="741.6">NDJ</text>
<text x="570.3" y="741.6">DJF</text>
<text x="642.3" y="741.6">JFM</text>
<text x="714.3" y="741.6">FMA</text>
<text x="786.3" y="741.6">MAM</text>
<text x="858.3" y="741.6">AMJ</text>
<text x="930.3" y="741.6">MJJ</text>
</g>
<g font-size="17.1" text-anchor="end">
<text x="130.6" y="86.10">3.0</text>
<text x="130.6" y="144.28">2.5</text>
<text x="130.6" y="202.46">2.0</text>
<text x="130.6" y="260.65">1.5</text>
<text x="130.6" y="318.83">1.0</text>
<text x="130.6" y="377.01">0.5</text>
<text x="130.6" y="435.19">0.0</text>
<text x="130.6" y="493.37">−0.5</text>
<text x="130.6" y="551.55">−1.0</text>
<text x="130.6" y="609.74">−1.5</text>
<text x="130.6" y="667.92">−2.0</text>
<text x="130.6" y="726.10">−2.5</text>
</g>
<text x="535.65" y="72" font-size="24.27" text-anchor="middle">Model Predictions of ENSO from Sep 2025</text>
<g transform="translate(77.5,550.2) rotate(-90)" font-size="22.5"><text x="0" y="0">Nino3.4 SST Anomaly (</text><text x="264.95" y="-7.6" font-size="15.5" text-anchor="middle">∘</text><text x="273.3" y="0">C)</text></g>
<text class="serif" x="156.25" y="708.2" font-size="16.67" style="fill:#000080">OBSERVED</text>
<text class="serif" x="353.2" y="708.2" font-size="16.67" style="fill:#000080">FORECAST</text>
<line x1="824.8" y1="96.3" x2="855.6" y2="96.3" stroke="#AA3377" stroke-width="7.2"/>
<line x1="824.8" y1="115.2" x2="855.6" y2="115.2" stroke="#228833" stroke-width="7.2"/>
<text x="860.6" y="100" font-size="12.35">DYN AVG</text>
<text x="860.4" y="118.8" font-size="12.35">STAT AVG</text>
<text x="932.4" y="100.8" font-size="13.9" letter-spacing="0.2">Dynamical Models</text>
<line x1="942.8" y1="115.80" x2="967.1" y2="115.80" stroke="#4477AA" stroke-width="1.4"/>
<circle cx="954.95" cy="115.80" r="4.17" fill="#4477AA" stroke="#4477AA" stroke-width="1.39" stroke-linejoin="miter"/>
<text x="976.2" y="119.90" font-size="11.5">AUS-ACCESS</text>
<line x1="942.8" y1="134.59" x2="967.1" y2="134.59" stroke="#66CCEE" stroke-width="1.4"/>
<rect x="950.79" y="130.43" width="8.33" height="8.33" fill="#66CCEE" stroke="#66CCEE" stroke-width="1.39" stroke-linejoin="miter"/>
<text x="976.2" y="138.69" font-size="11.5">BCC DIAP</text>
<line x1="942.8" y1="153.38" x2="967.1" y2="153.38" stroke="#228833" stroke-width="1.4"/>
<path d="M954.95 147.49L960.84 153.38L954.95 159.27L949.06 153.38Z" fill="#228833" stroke="#228833" stroke-width="1.39" stroke-linejoin="miter"/>
<text x="976.2" y="157.48" font-size="11.5">CMC CANSIP</text>
<line x1="942.8" y1="172.17" x2="967.1" y2="172.17" stroke="#CCBB44" stroke-width="1.4"/>
<path d="M954.95 168.00L959.12 176.33L950.79 176.33Z" fill="#CCBB44" stroke="#CCBB44" stroke-width="1.39" stroke-linejoin="miter"/>
<text x="976.2" y="176.27" font-size="11.5">COLA CCSM4</text>
<line x1="942.8" y1="190.96" x2="967.1" y2="190.96" stroke="#EE6677" stroke-width="1.4"/>
<path d="M954.95 195.12L959.12 186.79L950.79 186.79Z" fill="#EE6677" stroke="#EE6677" stroke-width="1.39" stroke-linejoin="miter"/>
<text x="976.2" y="195.06" font-size="11.5">CS-IRI-MM</text>
<line x1="942.8" y1="209.75" x2="967.1" y2="209.75" stroke="#BBBBBB" stroke-width="1.4"/>
<rect x="950.79" y="205.59" width="8.33" height="8.33" fill="#BBBBBB" stroke="#BBBBBB" stroke-width="1.39" stroke-linejoin="miter"/>
<text x="976.2" y="213.85" font-size="11.5">GFDL SPEAR</text>
<line x1="942.8" y1="228.54" x2="967.1" y2="228.54" stroke="#4477AA" stroke-width="1.4"/>
<path d="M954.95 222.65L960.84 228.54L954.95 234.43L949.06 228.54Z" fill="#4477AA" stroke="#4477AA" stroke-width="1.39" stroke-linejoin="miter"/>
<text x="976.2" y="232.64" font-size="11.5">IOCAS ICM</text>
<line x1="942.8" y1="247.33" x2="967.1" y2="247.33" stroke="#66CCEE" stroke-width="1.4"/>
<path d="M954.95 243.16L959.12 251.49L950.79 251.49Z" fill="#66CCEE" stroke="#66CCEE" stroke-width="1.39" stroke-linejoin="miter"/>
<text x="976.2" y="251.43" font-size="11.5">JMA</text>
<line x1="942.8" y1="266.12" x2="967.1" y2="266.12" stroke="#228833" stroke-width="1.4"/>
<path d="M954.95 270.29L959.12 261.95L950.79 261.95Z" fill="#228833" stroke="#228833" stroke-width="1.39" stroke-linejoin="miter"/>
<text x="976.2" y="270.22" font-size="11.5">KMA</text>
<line x1="942.8" y1="284.91" x2="967.1" y2="284.91" stroke="#CCBB44" stroke-width="1.4"/>
<circle cx="954.95" cy="284.91" r="4.17" fill="#CCBB44" stroke="#CCBB44" stroke-width="1.39" stroke-linejoin="miter"/>
<text x="976.2" y="289.01" font-size="11.5">LDEO</text>
<line x1="942.8" y1="303.70" x2="967.1" y2="303.70" stroke="#EE6677" stroke-width="1.4"/>
<rect x="950.79" y="299.53" width="8.33" height="8.33" fill="#EE6677" stroke="#EE6677" stroke-width="1.39" stroke-linejoin="miter"/>
<text x="976.2" y="307.80" font-size="11.5">MetFRANCE</text>
<line x1="942.8" y1="322.49" x2="967.1" y2="322.49" stroke="#AA3377" stroke-width="1.4"/>
<path d="M954.95 316.60L960.84 322.49L954.95 328.38L949.06 322.49Z" fill="#AA3377" stroke="#AA3377" stroke-width="1.39" stroke-linejoin="miter"/>
<text x="976.2" y="326.59" font-size="11.5">NASA GMAO</text>
<line x1="942.8" y1="341.28" x2="967.1" y2="341.28" stroke="#BBBBBB" stroke-width="1.4"/>
<path d="M954.95 337.11L959.12 345.44L950.79 345.44Z" fill="#BBBBBB" stroke="#BBBBBB" stroke-width="1.39" stroke-linejoin="miter"/>
<text x="976.2" y="345.38" font-size="11.5">NCEP CFSv2</text>
<line x1="942.8" y1="360.07" x2="967.1" y2="360.07" stroke="#66CCEE" stroke-width="1.4"/>
<circle cx="954.95" cy="360.07" r="4.17" fill="#66CCEE" stroke="#66CCEE" stroke-width="1.39" stroke-linejoin="miter"/>
<text x="976.2" y="364.17" font-size="11.5">SINTEX-F</text>
<line x1="942.8" y1="378.86" x2="967.1" y2="378.86" stroke="#228833" stroke-width="1.4"/>
<rect x="950.79" y="374.69" width="8.33" height="8.33" fill="#228833" stroke="#228833" stroke-width="1.39" stroke-linejoin="miter"/>
<text x="976.2" y="382.96" font-size="11.5">UKMO</text>
<text x="930.6" y="518.3" font-size="13.9" letter-spacing="0.08">Statistical Models</text>
<line x1="935.8" y1="533.50" x2="960.1" y2="533.50" stroke="#CCBB44" stroke-width="1.4"/>
<circle cx="947.95" cy="533.50" r="4.17" fill="none" stroke="#CCBB44" stroke-width="1.6" stroke-linejoin="miter"/>
<text x="969.3" y="537.60" font-size="11.5">BCC_RZDM</text>
<line x1="935.8" y1="552.28" x2="960.1" y2="552.28" stroke="#EE6677" stroke-width="1.4"/>
<rect x="943.79" y="548.12" width="8.33" height="8.33" fill="none" stroke="#EE6677" stroke-width="1.6" stroke-linejoin="miter"/>
<text x="969.3" y="556.38" font-size="11.5">CPC CA</text>
<line x1="935.8" y1="571.06" x2="960.1" y2="571.06" stroke="#AA3377" stroke-width="1.4"/>
<path d="M947.95 565.17L953.84 571.06L947.95 576.95L942.06 571.06Z" fill="none" stroke="#AA3377" stroke-width="1.6" stroke-linejoin="miter"/>
<text x="969.3" y="575.16" font-size="11.5">CPC MRKOV</text>
<line x1="935.8" y1="589.84" x2="960.1" y2="589.84" stroke="#BBBBBB" stroke-width="1.4"/>
<path d="M947.95 585.68L952.12 594.00L943.79 594.00Z" fill="none" stroke="#BBBBBB" stroke-width="1.6" stroke-linejoin="miter"/>
<text x="969.3" y="593.94" font-size="11.5">CSU CLIPR</text>
<line x1="935.8" y1="608.62" x2="960.1" y2="608.62" stroke="#4477AA" stroke-width="1.4"/>
<path d="M947.95 612.78L952.12 604.46L943.79 604.46Z" fill="none" stroke="#4477AA" stroke-width="1.6" stroke-linejoin="miter"/>
<text x="969.3" y="612.72" font-size="11.5">IAP-NN</text>
<line x1="935.8" y1="627.40" x2="960.1" y2="627.40" stroke="#66CCEE" stroke-width="1.4"/>
<circle cx="947.95" cy="627.40" r="4.17" fill="none" stroke="#66CCEE" stroke-width="1.6" stroke-linejoin="miter"/>
<text x="969.3" y="631.50" font-size="11.5">NTU CODA</text>
<line x1="935.8" y1="646.18" x2="960.1" y2="646.18" stroke="#228833" stroke-width="1.4"/>
<rect x="943.79" y="642.02" width="8.33" height="8.33" fill="none" stroke="#228833" stroke-width="1.6" stroke-linejoin="miter"/>
<text x="969.3" y="650.28" font-size="11.5">UCLA-TCD</text>
<line x1="935.8" y1="664.96" x2="960.1" y2="664.96" stroke="#CCBB44" stroke-width="1.4"/>
<path d="M947.95 659.07L953.84 664.96L947.95 670.85L942.06 664.96Z" fill="none" stroke="#CCBB44" stroke-width="1.6" stroke-linejoin="miter"/>
<text x="969.3" y="669.06" font-size="11.5">UW PSL-CSLIM</text>
<line x1="935.8" y1="683.74" x2="960.1" y2="683.74" stroke="#EE6677" stroke-width="1.4"/>
<path d="M947.95 679.58L952.12 687.90L943.79 687.90Z" fill="none" stroke="#EE6677" stroke-width="1.6" stroke-linejoin="miter"/>
<text x="969.3" y="687.84" font-size="11.5">UW PSL-LIM</text>
<line x1="935.8" y1="702.52" x2="960.1" y2="702.52" stroke="#AA3377" stroke-width="1.4"/>
<path d="M947.95 706.68L952.12 698.36L943.79 698.36Z" fill="none" stroke="#AA3377" stroke-width="1.6" stroke-linejoin="miter"/>
<text x="969.3" y="706.62" font-size="11.5">XRO</text>
<g fill="none" stroke="#1a398a"><ellipse cx="199.8" cy="138.23" rx="51.7" ry="51.3" stroke-width="1.75"/><circle cx="199.1" cy="137.25" r="36.7" stroke-width="1.7"/><path fill="#1a398a" stroke="none" d="M183.83 104.1A44.46 44.46 0 0 1 252.14 139.67A52.1 52.1 0 0 1 149 148.59A41.56 41.56 0 0 0 215.2 170A36.5 36.5 0 0 0 183.83 104.1Z"/></g>
<g class="serif" font-size="42.3" style="fill:#1a398a;stroke:#1a398a;stroke-width:0.7"><text class="serif" transform="translate(173.25,151.9) scale(0.87,1)" style="fill:#1a398a">I</text><text class="serif" transform="translate(188.1,151.9) scale(0.87,1)" style="fill:#1a398a">R</text><text class="serif" transform="translate(213.35,151.9) scale(0.87,1)" style="fill:#1a398a">I</text></g>
</svg></body></html>
